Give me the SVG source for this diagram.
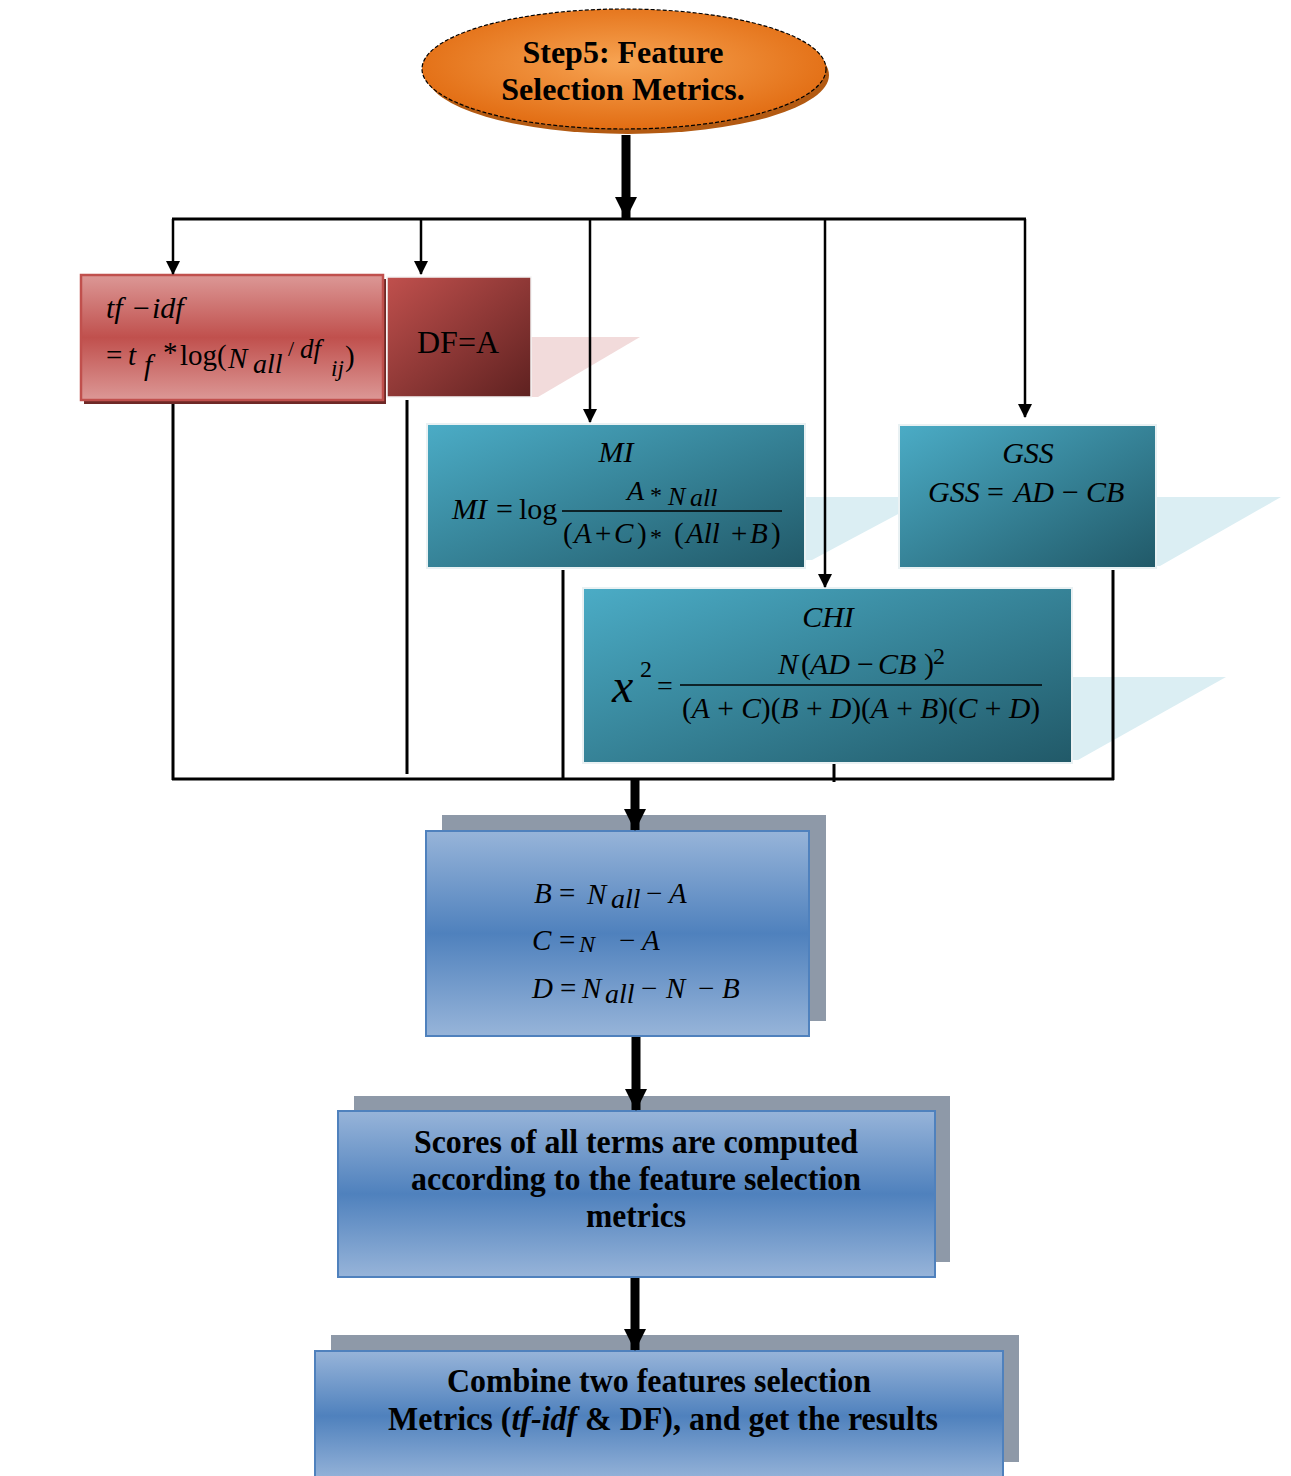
<svg xmlns="http://www.w3.org/2000/svg" width="1291" height="1476" viewBox="0 0 1291 1476">
<defs>
<radialGradient id="gOrange" cx="0.5" cy="0.45" r="0.55">
<stop offset="0" stop-color="#f7a453"/>
<stop offset="1" stop-color="#e26d13"/>
</radialGradient>
<linearGradient id="gPink" x1="0" y1="0" x2="0" y2="1">
<stop offset="0" stop-color="#dc9896"/>
<stop offset="0.5" stop-color="#c0504d"/>
<stop offset="1" stop-color="#dc9896"/>
</linearGradient>
<linearGradient id="gRed" x1="0" y1="0" x2="1" y2="1">
<stop offset="0" stop-color="#c0504d"/>
<stop offset="1" stop-color="#5e2120"/>
</linearGradient>
<linearGradient id="gTeal" x1="0" y1="0" x2="1" y2="1">
<stop offset="0" stop-color="#4bacc6"/>
<stop offset="1" stop-color="#215968"/>
</linearGradient>
<linearGradient id="gBlue" x1="0" y1="0" x2="0" y2="1">
<stop offset="0" stop-color="#97b4d9"/>
<stop offset="0.5" stop-color="#4f81bd"/>
<stop offset="1" stop-color="#97b4d9"/>
</linearGradient>
<marker id="aThin" markerUnits="userSpaceOnUse" markerWidth="14" markerHeight="16" refX="13" refY="7" orient="auto">
<path d="M0,0 L14,7 L0,14 Z" fill="#000"/>
</marker>
<marker id="aThick" markerUnits="userSpaceOnUse" markerWidth="22" markerHeight="24" refX="21" refY="11" orient="auto">
<path d="M0,0 L22,11 L0,22 Z" fill="#000"/>
</marker>
<style>
.bold{font-family:"Liberation Serif","Times New Roman",serif;font-weight:bold;fill:#000;text-anchor:middle}
.m{font-family:"Liberation Serif","Times New Roman",serif;font-style:italic;fill:#000}
.r{font-family:"Liberation Serif","Times New Roman",serif;font-style:normal;fill:#000}
.u{font-style:normal}
.thin{stroke:#000;stroke-width:2.5;fill:none}
.bar{stroke:#000;stroke-width:3;fill:none}
.thick{stroke:#000;stroke-width:9;fill:none}
.teal{fill:url(#gTeal);stroke:#e9f1f3;stroke-width:2}
.blue{fill:url(#gBlue);stroke:#4f81bd;stroke-width:2}
.shade{fill:#8e99a8}
.refl{fill:#dbeef3}
</style>
</defs>
<rect width="1291" height="1476" fill="#fff"/>

<g id="reflections">
<polygon points="531,337 640,337 538,397 531,397" fill="#f2dbdb"/>
<polygon points="805,497 930,497 812,560 805,560" class="refl"/>
<polygon points="1156,497 1281,497 1160,566 1156,566" class="refl"/>
<polygon points="1072,677 1226,677 1078,760 1072,760" class="refl"/>
</g>

<g id="start">
<ellipse cx="628" cy="75" rx="201" ry="59" fill="#b35a12"/>
<ellipse cx="624" cy="69" rx="202" ry="60" fill="url(#gOrange)" stroke="#000" stroke-width="1.2" stroke-dasharray="4 2"/>
<text class="bold" x="623" y="63" font-size="32">Step5: Feature</text>
<text class="bold" x="623" y="100" font-size="32">Selection Metrics.</text>
</g>

<g id="tfidf">
<rect x="84" y="279" width="302" height="125" fill="#6e2826"/>
<rect x="81" y="275" width="302" height="125" fill="url(#gPink)" stroke="#c0504d" stroke-width="2.5"/>
<text class="m" x="106" y="318" font-size="30">tf<tspan class="u" x="133">−</tspan><tspan x="152">idf</tspan></text>
<text class="m" font-size="29"><tspan class="u" x="106" y="365">=</tspan><tspan x="128" y="365">t</tspan><tspan x="144" y="375">f</tspan><tspan class="u" x="163" y="362">*</tspan><tspan class="u" x="180" y="365">log(</tspan><tspan x="228" y="368">N</tspan><tspan x="253" y="373" font-size="28">all</tspan><tspan class="u" x="288" y="356" font-size="22">/</tspan><tspan x="300" y="358" font-size="27">df</tspan><tspan x="331" y="376" font-size="23">ij</tspan><tspan class="u" x="345" y="366">)</tspan></text>
</g>

<g id="df">
<rect x="387" y="277" width="144" height="120" fill="url(#gRed)" stroke="#f4f4f4" stroke-width="1.5"/>
<text class="r" x="458" y="353" font-size="32" text-anchor="middle">DF=A</text>
</g>

<g id="mi">
<rect x="427" y="424" width="378" height="144" class="teal"/>
<text class="m" x="616" y="462" font-size="30" text-anchor="middle">MI</text>
<text class="m" font-size="30"><tspan x="452" y="519">MI</tspan><tspan class="u" x="496" y="519">=</tspan><tspan class="u" x="519" y="519">log</tspan></text>
<text class="m" font-size="28"><tspan x="627" y="500">A</tspan><tspan class="u" x="650" y="503" font-size="24">*</tspan><tspan x="668" y="505" font-size="26">N</tspan><tspan x="690" y="506" font-size="26">all</tspan></text>
<line x1="562" y1="511" x2="782" y2="511" stroke="#000" stroke-width="1.3"/>
<text class="m" font-size="29"><tspan class="u" x="563" y="543">(</tspan><tspan x="574" y="543">A</tspan><tspan class="u" x="595" y="543">+</tspan><tspan x="614" y="543">C</tspan><tspan class="u" x="637" y="543">)</tspan><tspan class="u" x="650" y="545" font-size="24">*</tspan><tspan class="u" x="674" y="543">(</tspan><tspan x="686" y="543">All</tspan><tspan class="u" x="731" y="543">+</tspan><tspan x="750" y="543">B</tspan><tspan class="u" x="771" y="543">)</tspan></text>
</g>

<g id="gss">
<rect x="899" y="425" width="257" height="143" class="teal"/>
<text class="m" x="1028" y="463" font-size="30" text-anchor="middle">GSS</text>
<text class="m" font-size="30"><tspan x="928" y="502">GSS</tspan><tspan class="u" x="987" y="502">=</tspan><tspan x="1014" y="502">AD</tspan><tspan class="u" x="1062" y="502">−</tspan><tspan x="1086" y="502">CB</tspan></text>
</g>

<g id="chi">
<rect x="583" y="588" width="489" height="175" class="teal"/>
<text class="m" x="828" y="627" font-size="30" text-anchor="middle">CHI</text>
<text class="m" x="612" y="702" font-size="48">x</text>
<text class="r" x="640" y="677" font-size="24">2</text>
<text class="r" x="657" y="695" font-size="28">=</text>
<text class="m" font-size="30"><tspan x="778" y="674">N</tspan><tspan class="u" x="801" y="674">(</tspan><tspan x="810" y="674">AD</tspan><tspan class="u" x="857" y="674">−</tspan><tspan x="878" y="674">CB</tspan><tspan class="u" x="924" y="674">)</tspan></text>
<text class="r" x="933" y="664" font-size="24">2</text>
<line x1="680" y1="685" x2="1042" y2="685" stroke="#000" stroke-width="1.3"/>
<text class="m" x="682" y="718" font-size="30" textLength="358" lengthAdjust="spacingAndGlyphs"><tspan class="u">(</tspan>A<tspan class="u"> + </tspan>C<tspan class="u">)(</tspan>B<tspan class="u"> + </tspan>D<tspan class="u">)(</tspan>A<tspan class="u"> + </tspan>B<tspan class="u">)(</tspan>C<tspan class="u"> + </tspan>D<tspan class="u">)</tspan></text>
</g>

<g id="bcd">
<rect x="442" y="815" width="384" height="206" class="shade"/>
<rect x="426" y="831" width="383" height="205" class="blue"/>
<text class="m" font-size="29"><tspan x="534" y="903">B</tspan><tspan class="u" x="559" y="903">=</tspan><tspan x="587" y="904">N</tspan><tspan x="611" y="908" font-size="28">all</tspan><tspan class="u" x="646" y="903">−</tspan><tspan x="669" y="903">A</tspan></text>
<text class="m" font-size="29"><tspan x="532" y="950">C</tspan><tspan class="u" x="559" y="950">=</tspan><tspan x="579" y="952" font-size="24">N</tspan><tspan class="u" x="619" y="950">−</tspan><tspan x="642" y="950">A</tspan></text>
<text class="m" font-size="29"><tspan x="532" y="998">D</tspan><tspan class="u" x="560" y="998">=</tspan><tspan x="582" y="998">N</tspan><tspan x="605" y="1003" font-size="28">all</tspan><tspan class="u" x="641" y="998">−</tspan><tspan x="666" y="998">N</tspan><tspan class="u" x="698" y="998">−</tspan><tspan x="722" y="998">B</tspan></text>
</g>

<g id="scores">
<rect x="354" y="1096" width="596" height="166" class="shade"/>
<rect x="338" y="1111" width="597" height="166" class="blue"/>
<text class="bold" x="636" y="1153" font-size="33" textLength="444" lengthAdjust="spacingAndGlyphs">Scores of all terms are computed</text>
<text class="bold" x="636" y="1190" font-size="33" textLength="450" lengthAdjust="spacingAndGlyphs">according to the feature selection</text>
<text class="bold" x="636" y="1227" font-size="33" textLength="100" lengthAdjust="spacingAndGlyphs">metrics</text>
</g>

<g id="combine">
<rect x="331" y="1335" width="688" height="127" class="shade"/>
<rect x="315" y="1351" width="688" height="130" class="blue"/>
<text class="bold" x="659" y="1392" font-size="33" textLength="424" lengthAdjust="spacingAndGlyphs">Combine two features selection</text>
<text class="bold" x="663" y="1430" font-size="33" textLength="550" lengthAdjust="spacingAndGlyphs">Metrics (<tspan font-style="italic">tf-idf</tspan> &amp; DF), and get the results</text>
</g>

<g id="connectors">
<line class="thick" x1="626" y1="135" x2="626" y2="218" marker-end="url(#aThick)"/>
<line class="bar" x1="172" y1="219" x2="1026" y2="219"/>
<line class="thin" x1="173" y1="219" x2="173" y2="274" marker-end="url(#aThin)"/>
<line class="thin" x1="421" y1="219" x2="421" y2="274" marker-end="url(#aThin)"/>
<line class="thin" x1="590" y1="219" x2="590" y2="422" marker-end="url(#aThin)"/>
<line class="thin" x1="825" y1="219" x2="825" y2="587" marker-end="url(#aThin)"/>
<line class="thin" x1="1025" y1="219" x2="1025" y2="417" marker-end="url(#aThin)"/>
<line class="bar" x1="173" y1="404" x2="173" y2="780"/>
<line class="bar" x1="407" y1="400" x2="407" y2="774"/>
<line class="bar" x1="563" y1="570" x2="563" y2="780"/>
<line class="bar" x1="834" y1="764" x2="834" y2="782"/>
<line class="bar" x1="1113" y1="570" x2="1113" y2="780"/>
<line class="bar" x1="172" y1="779" x2="1114" y2="779"/>
<line class="thick" x1="635" y1="780" x2="635" y2="830" marker-end="url(#aThick)"/>
<line class="thick" x1="636" y1="1037" x2="636" y2="1110" marker-end="url(#aThick)"/>
<line class="thick" x1="635" y1="1278" x2="635" y2="1350" marker-end="url(#aThick)"/>
</g>
</svg>
